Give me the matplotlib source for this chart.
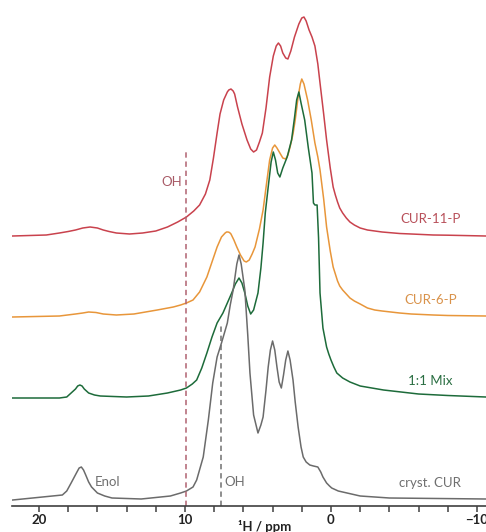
import matplotlib
matplotlib.use("Agg")
import matplotlib.pyplot as plt
from matplotlib.ticker import MultipleLocator

plt.rcParams['font.family'] = ['Lato', 'DejaVu Sans']

# spectra: chemical shift (ppm) and intensity above each trace's baseline
red_ppm = [21.8, 19.5, 18.6, 18.0, 17.5, 17.0, 16.5, 16.0, 15.6, 15.2, 14.7, 13.8, 12.9, 12.0, 11.2,
           10.5, 9.9, 9.4, 9.0, 8.6, 8.3, 8.05, 7.8, 7.6, 7.35, 7.1, 7.0, 6.85, 6.7, 6.6,
           6.4, 6.1, 5.75, 5.5, 5.3, 5.1, 4.9, 4.7, 4.45, 4.2, 3.95, 3.75, 3.6, 3.45, 3.3,
           3.1, 2.95, 2.75, 2.5, 2.2, 2.0, 1.85, 1.7, 1.5, 1.3, 1.1, 0.9, 0.75, 0.5, 0.3,
           0.05, -0.15, -0.3, -0.45, -0.6, -0.8, -1.05, -1.3, -1.6, -2.0, -2.5, -3.0, -3.5, -4.7, -5.5,
           -7.0, -8.0, -10.6]
red_int = [0, 1, 3, 4.5, 6, 8, 9, 8, 6, 4.5, 3, 2, 3, 5, 9,
           14, 19, 25, 31, 42, 56, 78, 103, 122, 136, 144, 146, 147, 145, 142,
           129, 112, 96, 87, 84, 86, 94, 103, 128, 159, 180, 190, 193, 190, 183,
           178, 177, 185, 199, 212, 218, 219, 215, 206, 199, 190, 172, 153, 122, 96,
           68, 49, 41, 34, 28, 23, 18, 14, 11, 8, 6, 5, 4, 2.5, 2,
           1, 0.8, 0]

orange_ppm = [21.8, 18.6, 17.5, 17.0, 16.6, 16.1, 15.6, 14.7, 13.5, 11.9, 10.8, 10.3, 9.9, 9.45, 9.0,
              8.5, 8.15, 7.8, 7.5, 7.25, 7.15, 7.05, 6.95, 6.85, 6.65, 6.45, 6.2, 5.95, 5.8, 5.6,
              5.4, 5.2, 4.9, 4.65, 4.4, 4.2, 4.0, 3.85, 3.7, 3.5, 3.3, 3.1, 2.95, 2.8, 2.6,
              2.45, 2.25, 2.1, 2.0, 1.85, 1.6, 1.35, 1.1, 0.9, 0.75, 0.5, 0.3, 0.05, -0.15, -0.3,
              -0.45, -0.6, -0.8, -1.05, -1.3, -1.6, -2.0, -2.5, -3.0, -3.5, -4.7, -5.5, -7.0, -8.0, -10.6]
orange_int = [0, 1, 3, 4, 5, 4.5, 3, 2, 3, 7, 10, 12, 14, 17, 25,
              40, 55, 70, 80, 84, 85, 85, 84.5, 83, 77, 70, 62, 56, 55, 57,
              63, 70, 88, 107, 135, 157, 169, 172, 169, 164, 159, 158, 162, 170, 183,
              197, 220, 233, 238, 233, 217, 197, 174, 160, 147, 118, 90, 66, 50, 43,
              36, 31, 27, 23, 19, 16, 13, 9, 7, 6, 4, 3, 2, 1.5, 1]

green_ppm = [21.8, 18.6, 18.1, 17.8, 17.5, 17.35, 17.2, 17.05, 16.9, 16.6, 16.2, 15.8, 14.0, 12.5, 11.2,
             10.3, 9.9, 9.5, 9.2, 8.85, 8.5, 8.15, 7.8, 7.4, 7.1, 6.8, 6.55, 6.3, 6.1, 5.9,
             5.7, 5.5, 5.3, 5.0, 4.8, 4.65, 4.5, 4.3, 4.1, 3.95, 3.8, 3.65, 3.5, 3.3, 3.0,
             2.7, 2.5, 2.35, 2.2, 2.05, 1.8, 1.55, 1.3, 1.2, 1.1, 0.95, 0.85, 0.75, 0.55, 0.3,
             0.15, 0.0, -0.2, -0.4, -0.8, -1.3, -2.0, -2.8, -3.6, -6.0, -8.0, -10.6]
green_int = [0, 0, 1, 5, 9, 12, 13, 12, 9, 5, 3, 2, 1, 2, 5,
             8, 10, 14, 18, 30, 45, 61, 75, 85, 95, 105, 114, 120, 115, 105,
             92, 84, 88, 105, 130, 155, 185, 211, 236, 246, 238, 225, 221, 230, 241,
             258, 280, 298, 306, 295, 278, 250, 225, 195, 193, 193, 160, 105, 70, 51,
             44, 38, 31, 25, 20, 16, 12, 10, 8, 4, 2.5, 1]

gray_ppm = [21.8, 18.4, 18.1, 17.8, 17.4, 17.25, 17.1, 16.95, 16.8, 16.6, 16.4, 16.0, 15.5, 15.0, 13.0,
            11.0, 10.3, 9.9, 9.45, 9.2, 8.75, 8.4, 8.1, 7.8, 7.5, 7.3, 7.1, 6.9, 6.7, 6.45,
            6.3, 6.15, 5.9, 5.7, 5.55, 5.3, 5.0, 4.8, 4.65, 4.45, 4.3, 4.15, 4.0, 3.85, 3.7,
            3.55, 3.4, 3.25, 3.1, 2.95, 2.8, 2.6, 2.45, 2.25, 2.05, 1.9, 1.7, 1.45, 1.2, 0.9,
            0.7, 0.55, 0.3, 0.1, -0.05, -0.5, -1.1, -2.0, -4.0, -10.6]
gray_int = [0, 5, 9, 17, 28, 32, 33, 30, 25, 18, 13, 7, 4, 2, 1,
            4, 7, 9, 13, 20, 43, 80, 117, 143, 157, 167, 177, 195, 210, 236,
            245, 236, 210, 165, 127, 85, 67, 75, 83, 110, 133, 150, 159, 150, 133,
            118, 112, 125, 140, 149, 140, 120, 98, 73, 53, 43, 38, 35, 34, 33,
            28, 23, 17, 14, 12, 9, 7, 4, 2, 1]

sample_names = ["CUR-11-P", "CUR-6-P", "1:1 Mix", "cryst. CUR"]
baselines = [270, 189, 108, 6]
colors = ["#c9424d", "#e8963a", "#1d6b3a", "#6b6b6b"]
text_colors = ["#b8505a", "#d9924a", "#2a6e42", "#6f6f6f"]

fig = plt.figure(figsize=(4.86, 5.32), dpi=100)
ax = fig.add_axes([12 / 486, 26 / 532, 474 / 486, 506 / 532])

spectra = [(red_ppm, red_int), (orange_ppm, orange_int), (green_ppm, green_int), (gray_ppm, gray_int)]
for (ppm, inten), base, col in zip(spectra, baselines, colors):
    ax.plot(ppm, [v + base for v in inten], color=col, lw=1.1, solid_joinstyle='round')

for name, base, tcol in zip(sample_names, baselines, text_colors):
    ax.text(-6.8, base + 17, name, color=tcol, fontsize=9.5, ha='center', va='center')

# OH / enol markers
ax.plot([9.9, 9.9], [0, 354], color="#b06270", lw=1.1, ls=(0, (3.5, 2.5)))
ax.plot([7.5, 7.5], [0, 183], color="#707070", lw=1.1, ls=(0, (3.5, 2.5)))
ax.text(10.9, 324, "OH", color="#a85a66", fontsize=9.5, ha='center', va='center')
ax.text(6.6, 24, "OH", color="#6f6f6f", fontsize=9.5, ha='center', va='center')
ax.text(15.3, 24, "Enol", color="#6f6f6f", fontsize=9.5, ha='center', va='center')

ax.set_xlim(21.85, -10.62)
ax.set_ylim(0, 506)
ax.xaxis.set_major_locator(MultipleLocator(10))
ax.xaxis.set_minor_locator(MultipleLocator(2))
ax.tick_params(axis='x', which='both', direction='out', length=4, width=1.1, color="#404040",
               labelsize=9.5, labelcolor="#222222", pad=2)
ax.set_yticks([])
for side in ['left', 'top', 'right']:
    ax.spines[side].set_visible(False)
ax.spines['bottom'].set_color("#404040")
ax.spines['bottom'].set_linewidth(1.2)
ax.patch.set_alpha(0)
for lab in ax.get_xticklabels():
    lab.set_fontweight('bold')

fig.text(265 / 486, 1 - 520 / 532, "¹H / ppm", ha='center', va='top', fontsize=9.5,
         color="#222222", fontweight='bold')

fig.savefig("out.png", dpi=100)
